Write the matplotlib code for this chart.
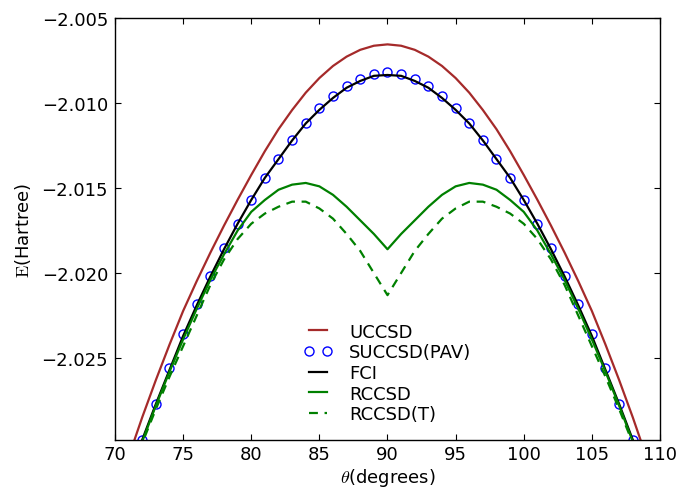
import matplotlib
matplotlib.use("Agg")
import matplotlib.pyplot as plt
from matplotlib.ticker import FixedLocator, FuncFormatter

plt.rcParams['mathtext.fontset'] = 'cm'
plt.rcParams['font.size'] = 13

# angle grid (degrees)
angles = list(range(71, 110))

uccsd = [-2.03081, -2.02848, -2.02629, -2.02421, -2.02223, -2.02047, -2.01880,
         -2.01721, -2.01569, -2.01423, -2.01283, -2.01154, -2.01041, -2.00939,
         -2.00853, -2.00782, -2.00727, -2.00687, -2.00663, -2.00655,
         -2.00663, -2.00687, -2.00727, -2.00782, -2.00853, -2.00939, -2.01041,
         -2.01154, -2.01283, -2.01423, -2.01569, -2.01721, -2.01880, -2.02047,
         -2.02223, -2.02421, -2.02629, -2.02848, -2.03081]

fci = [-2.0320, -2.0298, -2.0277, -2.0257, -2.0237, -2.0219, -2.0202,
       -2.0186, -2.0171, -2.0157, -2.0144, -2.0133, -2.0122, -2.0112,
       -2.0104, -2.0097, -2.0091, -2.0087, -2.0084, -2.00835,
       -2.0084, -2.0087, -2.0091, -2.0097, -2.0104, -2.0112, -2.0122,
       -2.0133, -2.0144, -2.0157, -2.0171, -2.0186, -2.0202, -2.0219,
       -2.0237, -2.0257, -2.0277, -2.0298, -2.0320]

rccsd = [-2.0321, -2.0299, -2.0278, -2.0258, -2.0239, -2.0221, -2.0204,
         -2.0189, -2.0175, -2.0164, -2.0157, -2.0151, -2.0148, -2.0147,
         -2.0149, -2.0154, -2.0161, -2.0169, -2.0177, -2.0186,
         -2.0177, -2.0169, -2.0161, -2.0154, -2.0149, -2.0147, -2.0148,
         -2.0151, -2.0157, -2.0164, -2.0175, -2.0189, -2.0204, -2.0221,
         -2.0239, -2.0258, -2.0278, -2.0299, -2.0321]

rccsd_t = [-2.0322, -2.0300, -2.0280, -2.0261, -2.0243, -2.0225, -2.0207,
           -2.0192, -2.0180, -2.0171, -2.0165, -2.0161, -2.0158, -2.0158,
           -2.0162, -2.0168, -2.0177, -2.0187, -2.0200, -2.0213,
           -2.0200, -2.0187, -2.0177, -2.0168, -2.0162, -2.0158, -2.0158,
           -2.0161, -2.0165, -2.0171, -2.0180, -2.0192, -2.0207, -2.0225,
           -2.0243, -2.0261, -2.0280, -2.0300, -2.0322]

# SUCCSD(PAV) points
pav_angles = list(range(72, 109))
succsd_pav = [-2.0298, -2.0277, -2.0256, -2.0236, -2.0218, -2.0202, -2.0185,
              -2.0171, -2.0157, -2.0144, -2.0133, -2.0122, -2.0112, -2.0103,
              -2.0096, -2.0090, -2.0086, -2.0083, -2.0082,
              -2.0083, -2.0086, -2.0090, -2.0096, -2.0103, -2.0112, -2.0122,
              -2.0133, -2.0144, -2.0157, -2.0171, -2.0185, -2.0202, -2.0218,
              -2.0236, -2.0256, -2.0277, -2.0298]

xticks = [70, 75, 80, 85, 90, 95, 100, 105, 110]
yticks = [-2.025, -2.020, -2.015, -2.010, -2.005]

fig = plt.figure(figsize=(6.94, 4.89), dpi=100)
ax = fig.add_axes([0.1657, 0.0988, 0.7853, 0.8623])

ax.plot(angles, uccsd, color='#a52a2a', lw=1.6, label='UCCSD')
ax.plot(pav_angles, succsd_pav, 'o', mfc='none', mec='blue', mew=1.0, ms=6.5,
        label='SUCCSD(PAV)')
ax.plot(angles, fci, color='black', lw=1.6, label='FCI')
ax.plot(angles, rccsd, color=(0, 0.5, 0), lw=1.6, label='RCCSD')
ax.plot(angles, rccsd_t, color=(0, 0.5, 0), lw=1.6, ls='--', dashes=(4, 3),
        label='RCCSD(T)')

ax.set_xlim(70, 110)
ax.set_ylim(-2.0298, -2.005)
ax.xaxis.set_major_locator(FixedLocator(xticks))
ax.yaxis.set_major_locator(FixedLocator(yticks))
ax.yaxis.set_major_formatter(FuncFormatter(lambda v, p: ('%.3f' % v).replace('-', '\u2212')))
ax.tick_params(direction='in', top=True, right=True, length=4, width=0.8,
               labelsize=13)
ax.tick_params(axis='x', pad=3.5)
ax.tick_params(axis='y', pad=5)
for s in ax.spines.values():
    s.set_linewidth(1.0)

ax.set_xlabel(r'$\theta$(degrees)', fontsize=13, labelpad=2.5)
ax.set_ylabel(r'$\mathrm{E}$(Hartree)', fontsize=13, labelpad=6)

ax.legend(loc='lower center', frameon=False, numpoints=2, fontsize=13,
          handlelength=1.6, handletextpad=0.9, labelspacing=0.15)

fig.savefig('out.png', dpi=100)
